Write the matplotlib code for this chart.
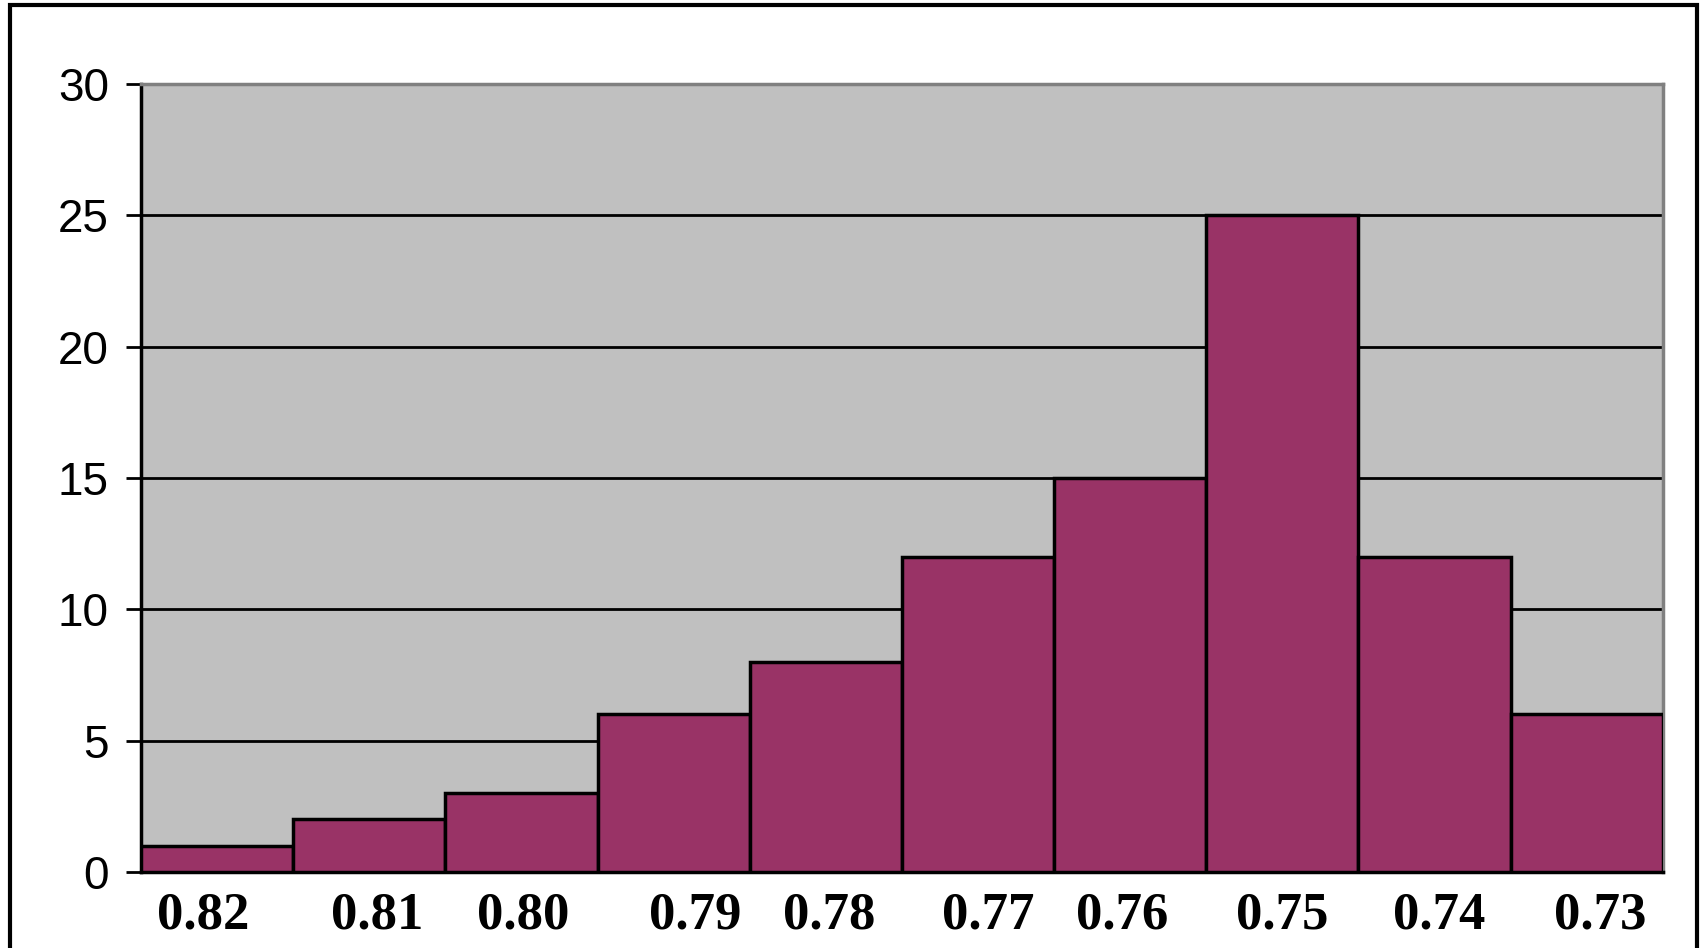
import matplotlib.pyplot as plt
from matplotlib.patches import Rectangle

# class labels (descending) and frequency of each class
classes = ["0.82", "0.81", "0.80", "0.79", "0.78",
           "0.77", "0.76", "0.75", "0.74", "0.73"]
counts = [1, 2, 3, 6, 8, 12, 15, 25, 12, 6]

# hand-placed label offsets, in bar widths
label_shift = [-0.09, 0.05, 0.01, 0.14, 0.02, 0.07, -0.05, 0.0, 0.03, 0.09]

fig = plt.figure(figsize=(17.02, 9.48), dpi=100)
ax = fig.add_axes([0.0828, 0.0802, 0.8942, 0.8312])

x = list(range(len(classes)))
ax.bar(x, counts, width=1.0, color="#993366", edgecolor="black",
       linewidth=2.5, zorder=3)

ax.set_facecolor("#c0c0c0")
ax.set_xlim(-0.5, len(classes) - 0.5)
ax.set_ylim(0, 30)
ax.set_yticks(range(0, 31, 5))
ax.yaxis.grid(True, color="black", linewidth=2)
ax.set_axisbelow(True)

for side in ["left", "bottom"]:
    ax.spines[side].set_color("black")
    ax.spines[side].set_linewidth(2.5)
for side in ["top", "right"]:
    ax.spines[side].set_color("#808080")
    ax.spines[side].set_linewidth(2.5)

ax.tick_params(axis="y", direction="out", length=11, width=2,
               pad=12, labelsize=33)
for lbl in ax.get_yticklabels():
    lbl.set_fontfamily("Liberation Sans")

ax.set_xticks([i + s for i, s in zip(x, label_shift)])
ax.set_xticklabels(classes, fontfamily="Liberation Serif",
                   fontweight="bold", fontsize=38)
ax.tick_params(axis="x", length=0, pad=14)

# outer chart frame
fig.patches.append(Rectangle((0.006, -0.05), 0.991, 1.045,
                             transform=fig.transFigure, fill=False,
                             edgecolor="black", linewidth=3))

fig.savefig("out.png", dpi=100, facecolor="white")
